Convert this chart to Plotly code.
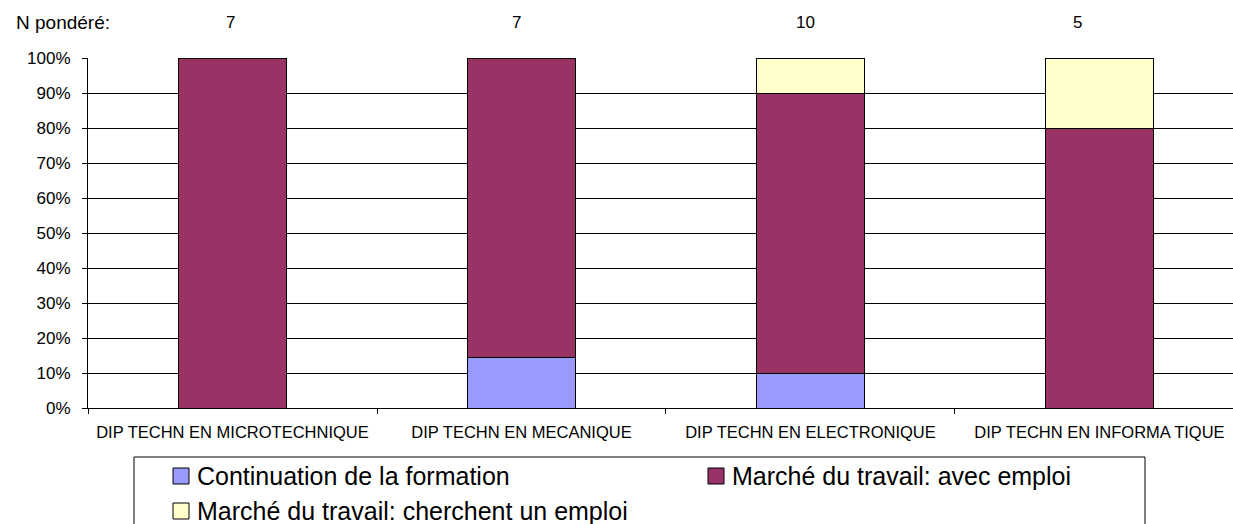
import plotly.graph_objects as go

# Diplomas shown on the x axis
categories = [
    "DIP TECHN EN MICROTECHNIQUE",
    "DIP TECHN EN MECANIQUE",
    "DIP TECHN EN ELECTRONIQUE",
    "DIP TECHN EN INFORMA TIQUE",
]

# Weighted headcount per diploma
n_weighted = ["7", "7", "10", "5"]

# Share of each situation (%)
continuation = [0, 14.3, 10, 0]
avec_emploi = [100, 85.7, 80, 80]
cherchent_emploi = [0, 0, 10, 20]

series_names = [
    "Continuation de la formation",
    "Marché du travail: avec emploi",
    "Marché du travail: cherchent un emploi",
]
series_values = [continuation, avec_emploi, cherchent_emploi]
series_colors = ["#9999FF", "#993366", "#FFFFCC"]

FONT = "Liberation Sans, Arial, sans-serif"
W, H = 1233, 524
ML, MR, MT, MB = 88, 0, 58, 116
PW, PH = W - ML - MR, H - MT - MB


def px_x(p):
    return (p - ML) / PW


def px_y(p):
    return (H - MB - p) / PH


fig = go.Figure()
for name, vals, col in zip(series_names, series_values, series_colors):
    fig.add_trace(go.Bar(
        x=categories,
        y=vals,
        name=name,
        marker=dict(color=col, line=dict(color="#000000", width=1)),
        width=0.377,
        showlegend=False,
        hoverinfo="x+y+name",
    ))

annotations = [
    dict(text="N pondéré:", x=px_x(14), y=px_y(22), xref="paper", yref="paper",
         xanchor="left", yanchor="middle", showarrow=False,
         font=dict(family=FONT, size=19, color="#000000")),
]
n_shift = [-2, -5, -5, -22]
for cat, n, sh in zip(categories, n_weighted, n_shift):
    annotations.append(dict(
        text=n, x=cat, y=px_y(22), xref="x", yref="paper", xshift=sh,
        xanchor="center", yanchor="middle", showarrow=False,
        font=dict(family=FONT, size=17, color="#000000")))

# Legend drawn as a framed box with two columns
shapes = [dict(type="rect", xref="paper", yref="paper",
               x0=px_x(134), x1=px_x(1145), y0=px_y(457), y1=px_y(560),
               line=dict(color="#000000", width=1), fillcolor="rgba(0,0,0,0)")]
legend_slots = [(173, 476), (708, 476), (173, 511)]
for (lx, ly), name, col in zip(legend_slots, series_names, series_colors):
    shapes.append(dict(type="rect", xref="paper", yref="paper",
                       x0=px_x(lx), x1=px_x(lx + 16), y0=px_y(ly - 8), y1=px_y(ly + 8),
                       line=dict(color="#000000", width=1), fillcolor=col))
    annotations.append(dict(text=name, x=px_x(lx + 22), y=px_y(ly), xref="paper", yref="paper",
                            xanchor="left", yanchor="middle", showarrow=False,
                            font=dict(family=FONT, size=25, color="#000000")))

fig.update_layout(
    width=W, height=H,
    margin=dict(l=ML, r=MR, t=MT, b=MB, pad=0),
    barmode="stack",
    paper_bgcolor="#FFFFFF",
    plot_bgcolor="#FFFFFF",
    font=dict(family=FONT, size=16, color="#000000"),
    annotations=annotations,
    shapes=shapes,
    showlegend=False,
    xaxis=dict(
        type="category",
        categoryorder="array",
        categoryarray=categories,
        range=[-0.5, 3.462],
        tickson="boundaries",
        ticks="outside",
        ticklen=5,
        tickcolor="#000000",
        ticklabelstandoff=9,
        showline=True,
        linecolor="#000000",
        linewidth=1,
        showgrid=False,
        tickfont=dict(family=FONT, size=16.5, color="#000000"),
    ),
    yaxis=dict(
        range=[0, 100],
        dtick=10,
        ticksuffix="%",
        ticks="outside",
        ticklen=5,
        tickcolor="#000000",
        ticklabelstandoff=8,
        showline=True,
        linecolor="#000000",
        linewidth=1,
        showgrid=True,
        gridcolor="#000000",
        gridwidth=1,
        zeroline=False,
        tickfont=dict(family=FONT, size=17, color="#000000"),
    ),
)

fig.write_html("out.html")
